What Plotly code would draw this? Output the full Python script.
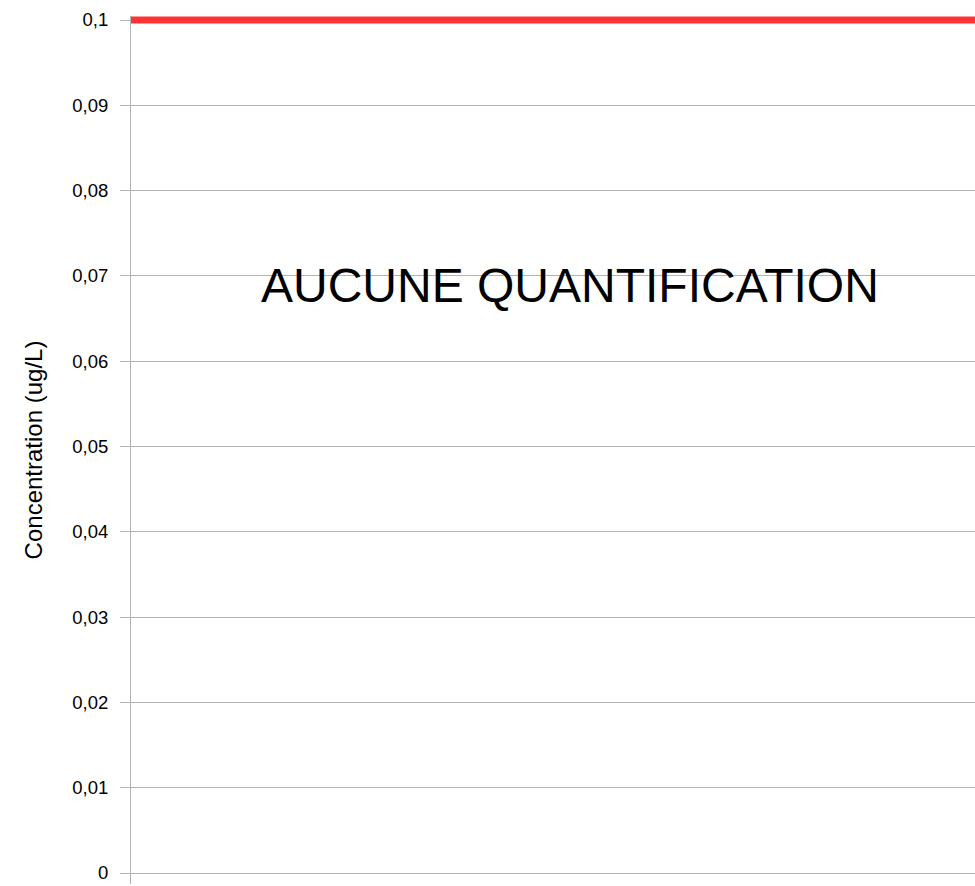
import plotly.graph_objects as go

# ── data ─────────────────────────────────────────────────────────────────────
x_span = [0, 1]            # full width of the plot
limit = [0.1, 0.1]         # concentration threshold line (ug/L)
y_ticks = [0, 0.01, 0.02, 0.03, 0.04, 0.05, 0.06, 0.07, 0.08, 0.09, 0.1]
message = "AUCUNE QUANTIFICATION"

GRID = "#b3b3b3"
FONT = "Liberation Sans, Arial, sans-serif"

fig = go.Figure()

fig.add_trace(
    go.Scatter(
        x=x_span,
        y=limit,
        mode="lines",
        line=dict(color="#ff3333", width=7),
        showlegend=False,
        hoverinfo="skip",
    )
)

fig.add_annotation(
    x=0.52, y=0.0689,
    xref="x", yref="y",
    text=message,
    showarrow=False,
    font=dict(size=48, color="#000000", family=FONT),
    xanchor="center", yanchor="middle",
)

fig.update_layout(
    width=975,
    height=886,
    paper_bgcolor="white",
    plot_bgcolor="white",
    separators=", ",
    font=dict(family=FONT, color="#000000", size=18),
    margin=dict(l=131, r=0, t=16, b=2),
    showlegend=False,
)

fig.update_xaxes(
    range=[0, 1],
    visible=False,
    showgrid=False,
    zeroline=False,
)

fig.update_yaxes(
    range=[-0.00129, 0.10047],
    tickvals=y_ticks,
    showgrid=True,
    gridcolor=GRID,
    gridwidth=1,
    zeroline=False,
    showline=True,
    linecolor=GRID,
    linewidth=1,
    ticks="outside",
    ticklen=10,
    tickcolor=GRID,
    ticklabelstandoff=8,
    tickfont=dict(size=18.5, family=FONT),
    title=dict(
        text="Concentration (ug/L)",
        font=dict(size=24, family=FONT),
        standoff=22,
    ),
)

# the page body has a default 8px margin; drop it so the figure fills the window
fig.write_html(
    "out.html",
    config={"displayModeBar": False},
    post_script="document.body.style.margin='0';document.body.style.overflow='hidden';",
)
